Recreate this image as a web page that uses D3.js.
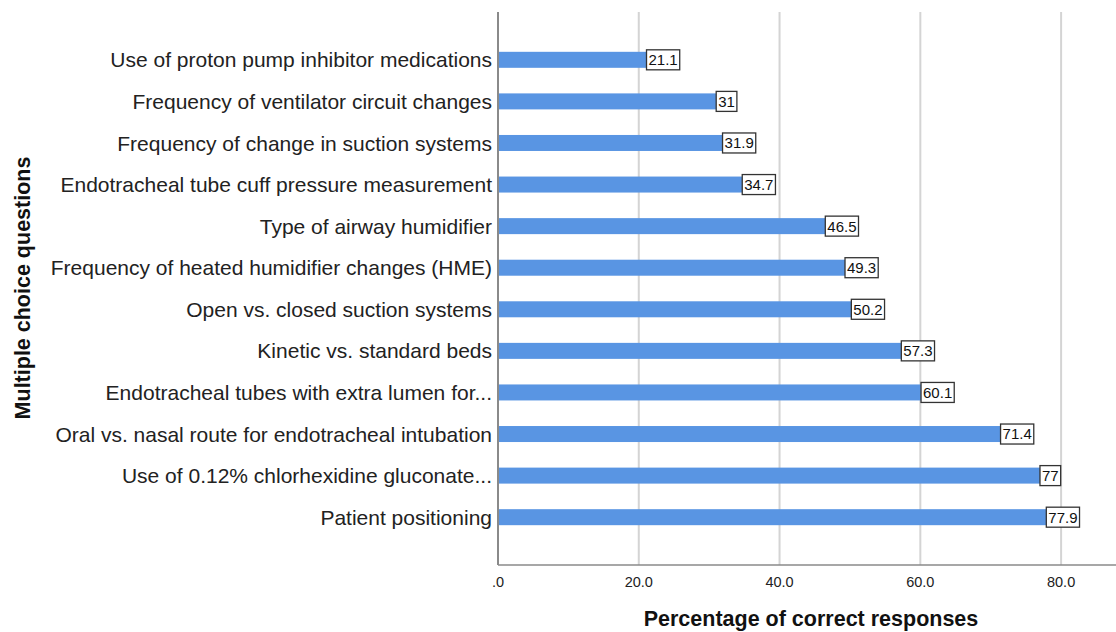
<!DOCTYPE html>
<html>
<head>
<meta charset="utf-8">
<script src="https://d3js.org/d3.v7.min.js"></script>
<style>
  body { margin: 0; background: #fff; }
  svg { font-family: "Liberation Sans", Arial, sans-serif; }
</style>
</head>
<body>
<svg width="1116" height="632"></svg>
<script>
var questions = [
  "Use of proton pump inhibitor medications",
  "Frequency of ventilator circuit changes",
  "Frequency of change in suction systems",
  "Endotracheal tube cuff pressure measurement",
  "Type of airway humidifier",
  "Frequency of heated humidifier changes (HME)",
  "Open vs. closed suction systems",
  "Kinetic vs. standard beds",
  "Endotracheal tubes with extra lumen for...",
  "Oral vs. nasal route for endotracheal intubation",
  "Use of 0.12% chlorhexidine gluconate...",
  "Patient positioning"
];
var percents = [21.1, 31, 31.9, 34.7, 46.5, 49.3, 50.2, 57.3, 60.1, 71.4, 77, 77.9];
var labels = ["21.1", "31", "31.9", "34.7", "46.5", "49.3", "50.2", "57.3", "60.1", "71.4", "77", "77.9"];
var xTicks = [0, 20, 40, 60, 80];

var svg = d3.select("svg");
var plotL = 498, plotR = 1116, plotT = 12, plotB = 565;

var x = d3.scaleLinear().domain([0, 87.8]).range([plotL, plotR]);
var y = d3.scalePoint().domain(questions).range([plotT, plotB]).padding(1.15);

// gridlines
svg.selectAll(".grid")
  .data(xTicks.slice(1))
  .enter().append("line")
  .attr("x1", d => x(d)).attr("x2", d => x(d))
  .attr("y1", plotT).attr("y2", plotB)
  .attr("stroke", "#d4d4d4").attr("stroke-width", 2);

// bars
var barH = 16;
svg.selectAll(".bar")
  .data(percents)
  .enter().append("rect")
  .attr("x", x(0))
  .attr("y", (d, i) => y(questions[i]) - barH / 2)
  .attr("width", d => x(d) - x(0))
  .attr("height", barH)
  .attr("fill", "#5995e3");

// axes
svg.append("line")
  .attr("x1", plotL).attr("x2", plotL).attr("y1", plotT).attr("y2", plotB)
  .attr("stroke", "#8a8a8a").attr("stroke-width", 2);
svg.append("line")
  .attr("x1", plotL).attr("x2", plotR).attr("y1", plotB).attr("y2", plotB)
  .attr("stroke", "#8a8a8a").attr("stroke-width", 1.5);

// category labels
svg.selectAll(".cat")
  .data(questions)
  .enter().append("text")
  .attr("x", plotL - 6)
  .attr("y", d => y(d))
  .attr("dy", "0.36em")
  .attr("text-anchor", "end")
  .attr("font-size", 21)
  .attr("fill", "#222")
  .text(d => d);

// tick labels
svg.selectAll(".tick")
  .data(xTicks)
  .enter().append("text")
  .attr("x", d => x(d))
  .attr("y", plotB + 22)
  .attr("text-anchor", "middle")
  .attr("font-size", 14.5)
  .attr("fill", "#222")
  .text(d => d === 0 ? ".0" : d.toFixed(1));

// value labels
var lab = svg.selectAll(".lab")
  .data(percents)
  .enter().append("g")
  .attr("transform", (d, i) => "translate(" + x(d) + "," + y(questions[i]) + ")");
lab.append("text")
  .attr("x", 2)
  .attr("dy", "0.36em")
  .attr("font-size", 15)
  .attr("fill", "#111")
  .text((d, i) => labels[i]);
lab.each(function () {
  var g = d3.select(this);
  var bb = g.select("text").node().getBBox();
  g.insert("rect", "text")
    .attr("x", 0)
    .attr("y", -10)
    .attr("width", bb.width + 4)
    .attr("height", 20)
    .attr("fill", "#fff")
    .attr("stroke", "#333")
    .attr("stroke-width", 1.3);
});

// axis titles
svg.append("text")
  .attr("x", 811).attr("y", 626)
  .attr("text-anchor", "middle")
  .attr("font-size", 21.5).attr("font-weight", "bold")
  .attr("fill", "#111")
  .text("Percentage of correct responses");
svg.append("text")
  .attr("transform", "translate(30,288) rotate(-90)")
  .attr("text-anchor", "middle")
  .attr("font-size", 21.5).attr("font-weight", "bold")
  .attr("fill", "#111")
  .text("Multiple choice questions");
</script>
</body>
</html>
